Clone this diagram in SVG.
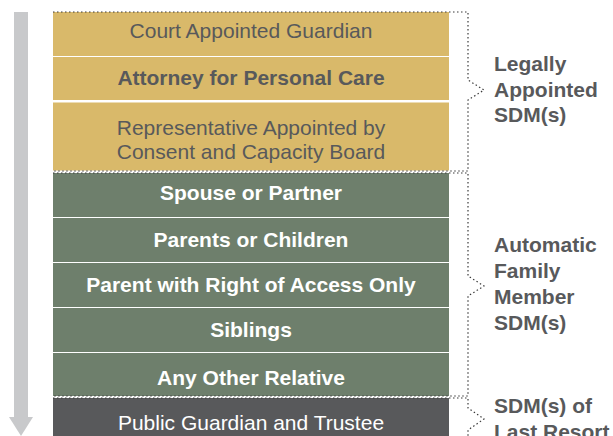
<svg xmlns="http://www.w3.org/2000/svg" width="613" height="436" viewBox="0 0 613 436">
<style>
.t{font-family:"Liberation Sans",Arial,sans-serif;font-size:21px;text-anchor:middle}
.y{fill:#d9b96a}
.g{fill:#6e7f6c}
.k{fill:#58595b}
.dt{fill:#58595b}
.wt{fill:#ffffff}
.b{font-weight:bold}
.lbl{font-family:"Liberation Sans",Arial,sans-serif;font-size:21px;font-weight:bold;fill:#58595b}
.dot{fill:none;stroke:#3a3a3a;stroke-width:1.2;stroke-dasharray:1.5 2.5}
</style>
<rect width="613" height="436" fill="#ffffff"/>
<g id="arrow">
<rect x="14" y="12" width="14" height="406" fill="#c8c9cb"/>
<polygon points="9,417 33,417 21,436" fill="#c8c9cb"/>
</g>
<g id="court"><rect class="y" x="53" y="12" width="396" height="44"/><text class="t dt" x="251" y="38">Court Appointed Guardian</text></g>
<g id="attorney"><rect class="y" x="53" y="57" width="396" height="43"/><text class="t dt b" x="251" y="85">Attorney for Personal Care</text></g>
<g id="representative"><rect class="y" x="53" y="102.5" width="396" height="68"/><text class="t dt" x="251" y="135">Representative Appointed by</text><text class="t dt" x="251" y="159">Consent and Capacity Board</text></g>
<g id="spouse"><rect class="g" x="53" y="173" width="396" height="44"/><text class="t wt b" x="251" y="200">Spouse or Partner</text></g>
<g id="parents"><rect class="g" x="53" y="218" width="396" height="44"/><text class="t wt b" x="251" y="247">Parents or Children</text></g>
<g id="access"><rect class="g" x="53" y="263" width="396" height="44"/><text class="t wt b" x="251" y="292">Parent with Right of Access Only</text></g>
<g id="siblings"><rect class="g" x="53" y="308" width="396" height="44"/><text class="t wt b" x="251" y="337">Siblings</text></g>
<g id="relative"><rect class="g" x="53" y="353" width="396" height="43"/><text class="t wt b" x="251" y="385">Any Other Relative</text></g>
<g id="pgt"><rect class="k" x="53" y="398" width="396" height="38"/><text class="t wt" x="251" y="430">Public Guardian and Trustee</text></g>
<g id="connectors">
<path class="dot" d="M53,12 H468 V80 L484,90 L468,100 V171 H53"/>
<path class="dot" d="M53,173 H468 V276 L484,286 L468,296 V396 H53"/>
<path class="dot" d="M53,398 H468 V408 L484,419 L468,430 V436"/>
</g>
<g id="legal"><text class="lbl" x="494" y="71">Legally</text><text class="lbl" x="494" y="97">Appointed</text><text class="lbl" x="494" y="122">SDM(s)</text></g>
<g id="family"><text class="lbl" x="494" y="252">Automatic</text><text class="lbl" x="494" y="278">Family</text><text class="lbl" x="494" y="304">Member</text><text class="lbl" x="494" y="330">SDM(s)</text></g>
<g id="resort"><text class="lbl" x="494" y="413">SDM(s) of</text><text class="lbl" x="494" y="439">Last Resort</text></g>
</svg>
